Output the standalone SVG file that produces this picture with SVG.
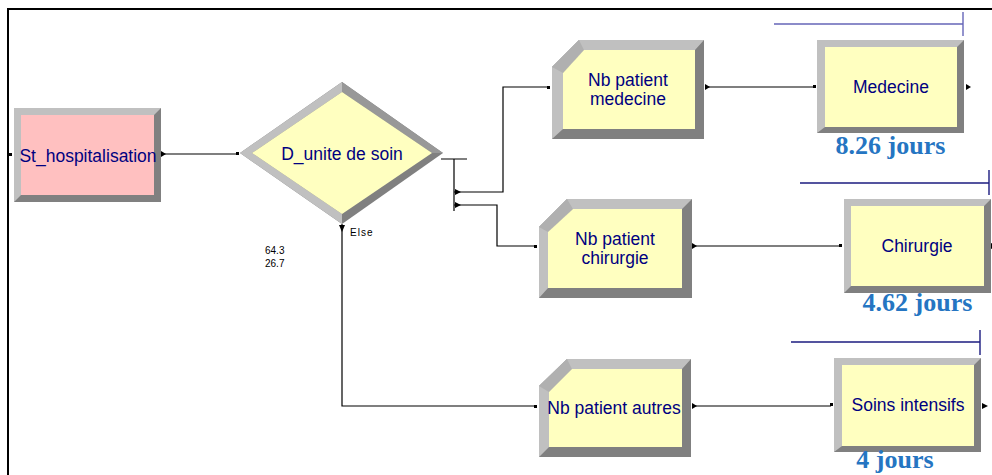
<svg xmlns="http://www.w3.org/2000/svg" width="992" height="475" viewBox="0 0 992 475">
<style>
.dark{fill:#808080}
.light{fill:#C0C0C0}
.y{fill:#FFFFC0}
.p{fill:#FFC0C0}
.lbl{font-family:"Liberation Sans",Arial,sans-serif;font-size:17.5px;fill:#000080;text-anchor:middle}
.sm{font-family:"Liberation Sans",Arial,sans-serif;font-size:10px;fill:#000}
.big{font-family:"Liberation Serif","Times New Roman",serif;font-size:26px;font-weight:bold;fill:#2575C2;text-anchor:middle}
.c{fill:none;stroke:#000;stroke-width:1.2}
.dim{fill:none;stroke:#1C1C80;stroke-width:1.4}
</style>
<rect width="992" height="475" fill="#fff"/>
<path d="M8,475 V9 H992" fill="none" stroke="#000" stroke-width="2"/>

<g id="connectors">
<path class="c" d="M161,154 H238"/>
<path class="c" d="M441,159 H467 M454,159 V211"/>
<path class="c" d="M454,192 H503 V87 H549"/>
<path class="c" d="M454,205 H497 V246 H536"/>
<path class="c" d="M342,224 V406 H536"/>
<path class="c" d="M705,87 H815"/>
<path class="c" d="M692,246 H841"/>
<path class="c" d="M692,406 H831"/>
<g fill="#000">
<polygon points="161,151 161,157 166,154"/>
<polygon points="455,189 455,195 461,192"/>
<polygon points="455,202 455,208 461,205"/>
<polygon points="339,225 345,225 342,232"/>
<polygon points="705,84 705,90 710,87"/>
<polygon points="692,243 692,249 697,246"/>
<polygon points="692,403 692,409 697,406"/>
<polygon points="966,84 966,90 971,87"/>
<polygon points="991,243 991,249 996,246"/>
<polygon points="982,403 982,409 988,406"/>
<rect x="236" y="152" width="3" height="3"/>
<rect x="547" y="86" width="3" height="3"/>
<rect x="534" y="245" width="3" height="3"/>
<rect x="534" y="405" width="3" height="3"/>
<rect x="813" y="85" width="3" height="3"/>
<rect x="839" y="244" width="3" height="3"/>
<rect x="830" y="403" width="3" height="3"/>
<rect x="9" y="153" width="3" height="3"/>
</g>
</g>

<g id="St_hospitalisation">
<rect class="dark" x="14" y="108" width="147" height="94"/>
<polygon class="light" points="14,202 14,108 161,108 154,115 21,115 21,195"/>
<rect class="p" x="21" y="115" width="133" height="80"/>
<text class="lbl" x="88" y="162">St_hospitalisation</text>
</g>

<g id="D_unite_de_soin">
<polygon fill="#808080" points="240,153 342,82 443,153 342,224"/>
<polygon fill="#C0C0C0" points="240,153 342,82 342,92 252,153 342,214 342,224"/>
<polygon fill="#989898" points="342,82 443,153 432,153 342,92"/>
<polygon class="y" points="252,153 342,92 432,153 342,214"/>
<text class="lbl" x="342" y="160">D_unite de soin</text>
<text class="sm" x="350" y="236" letter-spacing="1">Else</text>
<text class="sm" x="265" y="254">64.3</text>
<text class="sm" x="265" y="267">26.7</text>
</g>

<g id="Nb_patient_medecine">
<polygon class="dark" points="579,40 704,40 704,139 552,139 552,67"/>
<polygon class="light" points="552,139 552,67 579,40 704,40 695,50 584,50 563,73 563,129"/>
<polygon fill="#B0B0B0" points="552,67 579,40 584,50 563,73"/>
<polygon class="y" points="584,50 695,50 695,129 563,129 563,73"/>
<text class="lbl" x="628" y="86">Nb patient</text>
<text class="lbl" x="628" y="105">medecine</text>
</g>

<g id="Nb_patient_chirurgie">
<polygon class="dark" points="567,199 692,199 692,298 539,298 539,227"/>
<polygon class="light" points="539,298 539,227 567,199 692,199 682,209 573,209 548,232 548,288"/>
<polygon fill="#B0B0B0" points="539,227 567,199 573,209 548,232"/>
<polygon class="y" points="573,209 682,209 682,288 548,288 548,232"/>
<text class="lbl" x="615" y="245">Nb patient</text>
<text class="lbl" x="615" y="264">chirurgie</text>
</g>

<g id="Nb_patient_autres">
<polygon class="dark" points="567,359 691,359 691,457 539,457 539,386"/>
<polygon class="light" points="539,457 539,386 567,359 691,359 682,369 572,369 549,392 549,447"/>
<polygon fill="#B0B0B0" points="539,386 567,359 572,369 549,392"/>
<polygon class="y" points="572,369 682,369 682,447 549,447 549,392"/>
<text class="lbl" x="614" y="414">Nb patient autres</text>
</g>

<g id="Medecine">
<rect class="dark" x="817" y="40" width="147" height="93"/>
<polygon class="light" points="817,133 817,40 964,40 957,47 825,47 825,127"/>
<rect class="y" x="825" y="47" width="132" height="80"/>
<text class="lbl" x="891" y="93">Medecine</text>
<path d="M774,24 H963 M963,12 V36" fill="none" stroke="#6666B8" stroke-width="1.4"/>
<text class="big" x="890.5" y="154">8.26 jours</text>
</g>

<g id="Chirurgie">
<rect class="dark" x="844" y="199" width="147" height="94"/>
<polygon class="light" points="844,293 844,199 991,199 984,206 851,206 851,286"/>
<rect class="y" x="851" y="206" width="133" height="80"/>
<text class="lbl" x="917" y="252">Chirurgie</text>
<path class="dim" d="M800,183 H989 M989,170 V195"/>
<text class="big" x="917.5" y="311">4.62 jours</text>
</g>

<g id="Soins_intensifs">
<rect class="dark" x="834" y="358" width="147" height="94"/>
<polygon class="light" points="834,452 834,358 981,358 974,365 842,365 842,446"/>
<rect class="y" x="842" y="365" width="132" height="81"/>
<text class="lbl" x="908" y="411">Soins intensifs</text>
<path class="dim" d="M791,342 H980 M980,330 V355"/>
<text class="big" x="895" y="468">4 jours</text>
</g>
</svg>
